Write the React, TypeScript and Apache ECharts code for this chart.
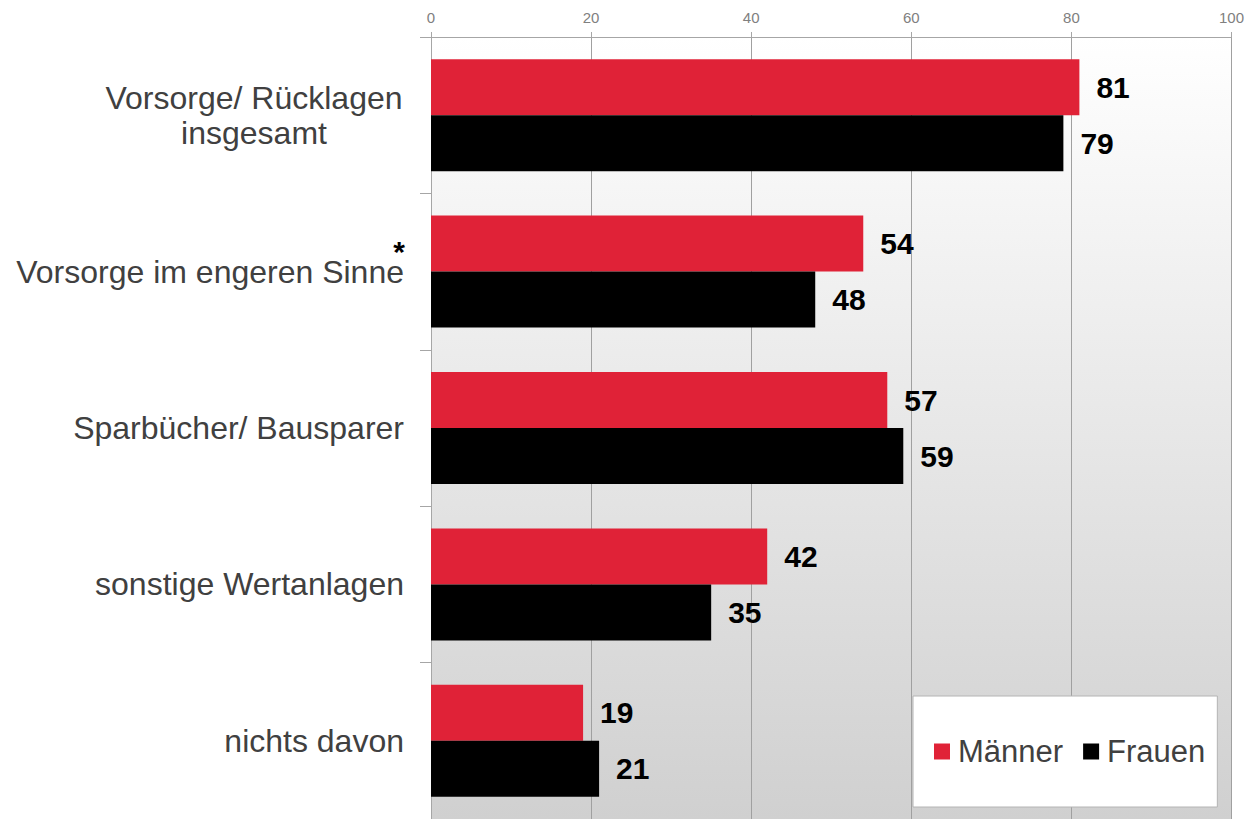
import React, { useEffect, useRef } from "react";
import * as echarts from "echarts";

const categories = [
  "Vorsorge/ Rücklagen\ninsgesamt",
  "Vorsorge im engeren Sinne",
  "Sparbücher/ Bausparer",
  "sonstige Wertanlagen",
  "nichts davon",
];
const maenner = [81, 54, 57, 42, 19];
const frauen = [79, 48, 59, 35, 21];
const xTicks = { min: 0, max: 100, interval: 20 };
const seriesNames = ["Männer", "Frauen"];

const FONT = "'Liberation Sans', Arial, sans-serif";

export default function App() {
  const ref = useRef<HTMLDivElement>(null);
  useEffect(() => {
    if (!ref.current) return;
    const chart = echarts.init(ref.current, null, { renderer: "svg" });
    const valueLabel = {
      show: true,
      position: "right",
      distance: 17,
      fontSize: 30,
      fontWeight: "bold",
      color: "#000",
      fontFamily: FONT,
    };
    chart.setOption({
      animation: false,
      textStyle: { fontFamily: FONT },
      grid: {
        left: 431,
        right: 15,
        top: 37,
        bottom: 0,
        containLabel: false,
        show: true,
        borderWidth: 0,
        backgroundColor: {
          type: "linear",
          x: 0,
          y: 0,
          x2: 0,
          y2: 1,
          colorStops: [
            { offset: 0, color: "#ffffff" },
            { offset: 1, color: "#d0d0d0" },
          ],
        },
      },
      legend: {
        data: seriesNames,
        left: 913,
        top: 696,
        orient: "horizontal",
        icon: "rect",
        itemWidth: 16,
        itemHeight: 16,
        itemGap: 20,
        backgroundColor: "#fff",
        borderColor: "#b4b4b4",
        borderWidth: 1,
        padding: [40, 12, 40, 21],
        textStyle: {
          fontSize: 31,
          color: "#404040",
          fontFamily: FONT,
          padding: [0, 0, 0, 3],
        },
      },
      xAxis: {
        type: "value",
        position: "top",
        min: xTicks.min,
        max: xTicks.max,
        interval: xTicks.interval,
        axisLine: { show: true, lineStyle: { color: "#a6a6a6", width: 1 } },
        axisTick: { show: true, length: 5, lineStyle: { color: "#a6a6a6" } },
        axisLabel: { fontSize: 15, color: "#808080", margin: 12, fontFamily: FONT },
        splitLine: { show: true, lineStyle: { color: "#a0a0a0", width: 1 } },
      },
      yAxis: {
        type: "category",
        inverse: true,
        data: categories,
        axisLine: { show: true, lineStyle: { color: "#a6a6a6", width: 1 } },
        axisTick: { show: true, length: 11, lineStyle: { color: "#a6a6a6" } },
        axisLabel: {
          margin: 27,
          fontSize: 32,
          color: "#404040",
          fontFamily: FONT,
          formatter: (v: string) => {
            const parts = v.split("\n");
            if (parts.length > 1) return parts.map((p) => `{c|${p}}`).join("\n");
            return v;
          },
          rich: {
            c: {
              width: 300,
              align: "center",
              fontSize: 32,
              color: "#404040",
              lineHeight: 35,
              fontFamily: FONT,
            },
          },
        },
      },
      series: [
        {
          name: seriesNames[0],
          type: "bar",
          data: maenner,
          barWidth: 56,
          barGap: "0%",
          itemStyle: { color: "#e02237" },
          label: valueLabel,
        },
        {
          name: seriesNames[1],
          type: "bar",
          data: frauen,
          barWidth: 56,
          barGap: "0%",
          itemStyle: { color: "#000000" },
          label: valueLabel,
        },
      ],
      graphic: [
        {
          type: "line",
          z: 100,
          shape: { x1: 175, y1: 192, x2: 1247, y2: 192 },
          style: {
            stroke: "#000",
            lineWidth: 3,
            shadowBlur: 4,
            shadowOffsetY: 3,
            shadowColor: "rgba(0,0,0,0.3)",
          },
        },
        {
          type: "text",
          z: 100,
          x: 399,
          y: 245,
          style: {
            text: "*",
            fontSize: 30,
            lineHeight: 12,
            fontWeight: "bold",
            fill: "#000",
            fontFamily: FONT,
            textAlign: "center",
            textVerticalAlign: "top",
          },
        },
      ],
    });
    return () => chart.dispose();
  }, []);
  return (
    <div
      ref={ref}
      style={{ position: "absolute", left: 0, top: 0, width: 1247, height: 819 }}
    />
  );
}
